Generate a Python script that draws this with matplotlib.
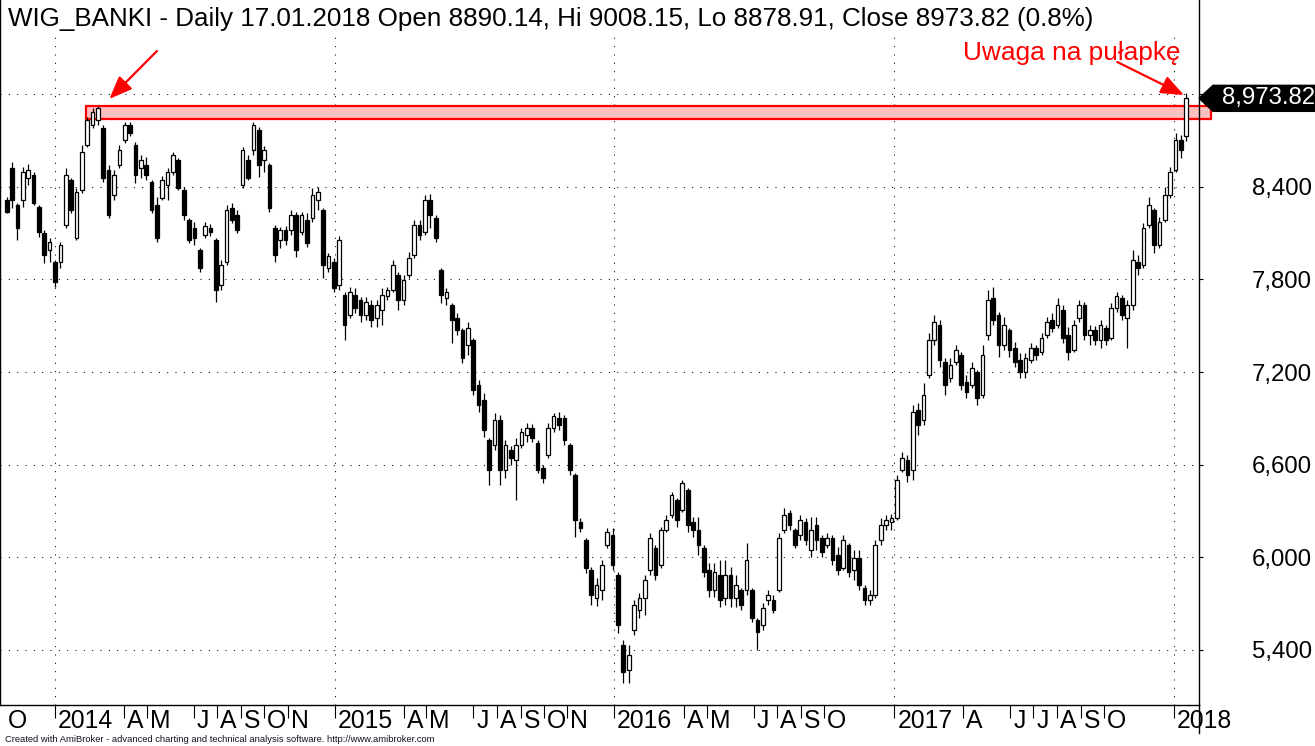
import matplotlib
matplotlib.use("Agg")
import matplotlib.pyplot as plt
import matplotlib.dates as mdates
import numpy as np
import pandas as pd
from matplotlib.patches import Rectangle, Polygon
from matplotlib.transforms import blended_transform_factory, ScaledTranslation

plt.rcParams['font.family'] = ['Liberation Sans', 'DejaVu Sans']

# ---------------- data (weekly candles) ----------------
last_date = "2018-01-17"

opens = [
    8315, 8523, 8283, 8315, 8458, 8477, 8270, 8101, 7991, 7913,
    7913, 8153, 8445, 8069, 8380, 8672, 8801, 8834, 8782, 8510,
    8348, 8542, 8704, 8801, 8672, 8523, 8542, 8432, 8283, 8328,
    8412, 8497, 8574, 8380, 8186, 8134, 7991, 8089, 8134, 8056,
    7765, 7913, 8263, 8218, 8412, 8574, 8639, 8769, 8574, 8542,
    8134, 8056, 8121, 8121, 8218, 8108, 8186, 8199, 8315, 8250,
    7875, 7913, 7765, 7700, 7570, 7700, 7667, 7570, 7635, 7551,
    7603, 7693, 7732, 7829, 7667, 7829, 7959, 8153, 8108, 8315,
    8199, 7862, 7680, 7635, 7551, 7473, 7376, 7408, 7117, 7019,
    6760, 6728, 6890, 6566, 6696, 6631, 6728, 6793, 6838, 6741,
    6579, 6663, 6838, 6903, 6903, 6728, 6534, 6229, 6112, 5918,
    5737, 5788, 6080, 6145, 5886, 5432, 5270, 5529, 5659, 5737,
    5918, 6060, 5950, 6177, 6274, 6372, 6307, 6436, 6229, 6177,
    6060, 5918, 5788, 5886, 5737, 5886, 5737, 5788, 5788, 5788,
    5594, 5562, 5724, 5724, 5788, 6177, 6287, 6177, 6145, 6229,
    6048, 6210, 6125, 6080, 6125, 6015, 5931, 6080, 5918, 5996,
    5801, 5724, 5756, 6112, 6210, 6229, 6255, 6566, 6631, 6566,
    6955, 6890, 7181, 7408, 7505, 7266, 7162, 7266, 7311, 7136,
    7117, 7201, 7052, 7441, 7680, 7570, 7376, 7473, 7356, 7279,
    7201, 7279, 7356, 7330, 7441, 7538, 7505, 7603, 7441, 7343,
    7551, 7635, 7441, 7473, 7408, 7486, 7421, 7616, 7680, 7551,
    7635, 7913, 7894, 8153, 8250, 8024, 8186, 8348, 8510, 8704,
    8730,
]
highs = [
    8335, 8561, 8296, 8529, 8548, 8497, 8283, 8121, 8069, 7926,
    8043, 8523, 8458, 8393, 8672, 8853, 8911, 8924, 8801, 8542,
    8510, 8672, 8821, 8821, 8691, 8607, 8594, 8445, 8335, 8471,
    8523, 8626, 8587, 8399, 8199, 8173, 8004, 8173, 8160, 8069,
    7926, 8283, 8296, 8250, 8659, 8607, 8821, 8788, 8665, 8555,
    8153, 8140, 8147, 8250, 8237, 8237, 8231, 8393, 8399, 8263,
    7972, 7939, 8082, 7719, 7752, 7745, 7687, 7687, 7667, 7667,
    7745, 7752, 7926, 7849, 7829, 7978, 8186, 8186, 8348, 8354,
    8218, 7875, 7745, 7648, 7583, 7486, 7525, 7421, 7149, 7065,
    6773, 6935, 6922, 6760, 6722, 6773, 6838, 6870, 6864, 6760,
    6598, 6870, 6935, 6942, 6922, 6741, 6547, 6255, 6125, 5937,
    5866, 5983, 6190, 6190, 5905, 5464, 5432, 5724, 5769, 5886,
    6158, 6080, 6197, 6274, 6423, 6384, 6501, 6449, 6261, 6261,
    6080, 5963, 5963, 5983, 5983, 5937, 5886, 5801, 6093, 5801,
    5607, 5704, 5788, 5756, 6158, 6320, 6307, 6190, 6274, 6255,
    6261, 6261, 6145, 6158, 6145, 6067, 6145, 6093, 6048, 6048,
    5821, 5788, 6112, 6255, 6274, 6281, 6534, 6683, 6663, 6987,
    6999, 7130, 7454, 7570, 7538, 7291, 7291, 7376, 7330, 7181,
    7266, 7214, 7376, 7732, 7752, 7590, 7557, 7486, 7395, 7324,
    7324, 7389, 7376, 7454, 7557, 7583, 7680, 7635, 7492, 7538,
    7667, 7654, 7505, 7499, 7538, 7505, 7648, 7719, 7700, 7667,
    7991, 7959, 8166, 8335, 8263, 8205, 8399, 8529, 8749, 8736,
    9008.15,
]
lows = [
    8228, 8263, 8056, 8270, 8412, 8283, 8076, 7907, 7913, 7752,
    7875, 8134, 8231, 8056, 8361, 8659, 8782, 8801, 8432, 8199,
    8315, 8523, 8685, 8730, 8425, 8458, 8445, 8231, 8043, 8315,
    8315, 8477, 8380, 8186, 8037, 8024, 7849, 8069, 8082, 7654,
    7732, 7894, 8166, 8101, 8393, 8445, 8607, 8464, 8497, 8237,
    7913, 8004, 8024, 8089, 7946, 8089, 8011, 8173, 8250, 7810,
    7849, 7719, 7732, 7408, 7551, 7583, 7525, 7538, 7492, 7492,
    7505, 7667, 7719, 7603, 7635, 7810, 7939, 8056, 8089, 8134,
    8043, 7648, 7635, 7389, 7441, 7259, 7311, 7052, 6942, 6780,
    6469, 6696, 6469, 6514, 6598, 6372, 6708, 6747, 6747, 6547,
    6482, 6644, 6812, 6825, 6728, 6534, 6132, 6164, 5899, 5691,
    5685, 5724, 6060, 5918, 5510, 5186, 5186, 5497, 5607, 5626,
    5886, 5853, 5931, 6164, 6255, 6197, 6294, 6164, 6132, 6015,
    5873, 5743, 5743, 5678, 5691, 5678, 5678, 5659, 5756, 5581,
    5400, 5529, 5691, 5639, 5775, 6158, 6177, 6060, 6112, 6080,
    6002, 6048, 6002, 6060, 5950, 5886, 5918, 5873, 5853, 5788,
    5691, 5691, 5737, 6080, 6177, 6177, 6242, 6553, 6488, 6501,
    6793, 6857, 7162, 7376, 7233, 7052, 7136, 7246, 7084, 7032,
    7097, 6987, 7032, 7408, 7505, 7298, 7343, 7298, 7233, 7162,
    7162, 7259, 7279, 7311, 7421, 7460, 7486, 7389, 7279, 7330,
    7525, 7408, 7376, 7376, 7356, 7376, 7408, 7590, 7538, 7356,
    7603, 7829, 7875, 8134, 7972, 8004, 8173, 8328, 8497, 8587,
    8700,
]
closes = [
    8237, 8315, 8134, 8497, 8510, 8296, 8108, 7959, 8043, 7784,
    8024, 8477, 8250, 8367, 8626, 8834, 8885, 8911, 8458, 8218,
    8477, 8639, 8801, 8749, 8477, 8574, 8477, 8250, 8069, 8445,
    8497, 8607, 8393, 8218, 8056, 8069, 7875, 8147, 8108, 7732,
    7894, 8250, 8186, 8121, 8639, 8458, 8801, 8542, 8639, 8263,
    7959, 8121, 8056, 8218, 7991, 8218, 8037, 8348, 8367, 7894,
    7952, 7745, 8056, 7505, 7719, 7616, 7570, 7654, 7538, 7635,
    7700, 7732, 7894, 7667, 7797, 7939, 8153, 8089, 8315, 8218,
    8069, 7700, 7719, 7538, 7473, 7291, 7486, 7084, 6987, 6825,
    6566, 6890, 6566, 6728, 6644, 6728, 6812, 6838, 6773, 6566,
    6514, 6838, 6916, 6857, 6760, 6566, 6242, 6190, 5931, 5756,
    5821, 5950, 6164, 5950, 5562, 5257, 5367, 5691, 5737, 5853,
    6125, 5886, 6177, 6242, 6404, 6242, 6482, 6210, 6177, 6080,
    5905, 5788, 5905, 5724, 5886, 5737, 5821, 5691, 5983, 5607,
    5516, 5672, 5756, 5659, 6125, 6274, 6210, 6080, 6242, 6112,
    6177, 6112, 6035, 6125, 5983, 5918, 6112, 5905, 5996, 5821,
    5724, 5756, 6080, 6210, 6242, 6255, 6501, 6644, 6534, 6942,
    6857, 7052, 7408, 7525, 7279, 7117, 7246, 7343, 7117, 7071,
    7227, 7032, 7311, 7667, 7538, 7376, 7505, 7343, 7266, 7201,
    7291, 7356, 7311, 7421, 7525, 7486, 7635, 7421, 7330, 7505,
    7635, 7441, 7473, 7408, 7505, 7408, 7616, 7693, 7570, 7635,
    7926, 7875, 8134, 8283, 8024, 8173, 8348, 8497, 8704, 8639,
    8973.82,
]

y_ticks = [5400, 6000, 6600, 7200, 7800, 8400, 9000]
y_labels = ["5,400", "6,000", "6,600", "7,200", "7,800", "8,400", ""]
month_ticks = [
    ("2014-01-01", "2014"), ("2014-04-01", "A"), ("2014-05-01", "M"),
    ("2014-07-01", "J"), ("2014-08-01", "A"), ("2014-09-01", "S"),
    ("2014-10-01", "O"), ("2014-11-01", "N"),
    ("2015-01-01", "2015"), ("2015-04-01", "A"), ("2015-05-01", "M"),
    ("2015-07-01", "J"), ("2015-08-01", "A"), ("2015-09-01", "S"),
    ("2015-10-01", "O"), ("2015-11-01", "N"),
    ("2016-01-01", "2016"), ("2016-04-01", "A"), ("2016-05-01", "M"),
    ("2016-07-01", "J"), ("2016-08-01", "A"), ("2016-09-01", "S"),
    ("2016-10-01", "O"),
    ("2017-01-01", "2017"), ("2017-04-01", "A"), ("2017-06-01", "J"),
    ("2017-07-01", "J"), ("2017-08-01", "A"), ("2017-09-01", "S"),
    ("2017-10-01", "O"),
    ("2018-01-01", "2018"),
]
year_lines = ["2014-01-01", "2015-01-01", "2016-01-01", "2017-01-01", "2018-01-01"]
zone_low, zone_high = 8838, 8927
zone_start, zone_end = "2014-02-10", "2018-02-18"

title = ("WIG_BANKI - Daily 17.01.2018 Open 8890.14, Hi 9008.15, "
         "Lo 8878.91, Close 8973.82 (0.8%)")
note = "Uwaga na pułapkę"
footer = ("Created with AmiBroker - advanced charting and technical analysis "
          "software. http://www.amibroker.com")

# ---------------- figure ----------------
W, H = 1315, 746
fig = plt.figure(figsize=(W / 100, H / 100), dpi=100)
ax = fig.add_axes([0, 41 / H, 1199 / W, 705 / H])

dates = pd.date_range(end=last_date, periods=len(closes), freq="7D")
x = mdates.date2num(dates)
o = np.array(opens, float)
h = np.array(highs, float)
l = np.array(lows, float)
c = np.array(closes, float)

base = mdates.date2num(pd.Timestamp("2014-01-01"))
ax.set_xlim(base - 71.81, base + 1493.6)
ax.set_ylim(5043, 9611)

# wicks and bodies
ax.vlines(x, l, h, color="black", lw=0.9, zorder=3)
up = c >= o
bot = np.minimum(o, c)
hgt = np.maximum(np.abs(c - o), 8)
bw = 4.8
ax.bar(x[up], hgt[up], bottom=bot[up], width=bw, facecolor="white",
       edgecolor="black", linewidth=0.9, zorder=4)
ax.bar(x[~up], hgt[~up], bottom=bot[~up], width=bw, facecolor="black",
       edgecolor="black", linewidth=0.9, zorder=4)

# zone rectangle
zs = mdates.date2num(pd.Timestamp(zone_start))
ze = mdates.date2num(pd.Timestamp(zone_end))
ax.add_patch(Rectangle((zs, zone_low), ze - zs, zone_high - zone_low,
                       facecolor="#FFC0C0", edgecolor="#FF0000", lw=1.6,
                       clip_on=False, zorder=2))

# grid
for yv in y_ticks:
    ax.axhline(yv, color="black", lw=0.75, ls=(0, (1, 7)), zorder=1)
for yl in year_lines:
    ax.axvline(mdates.date2num(pd.Timestamp(yl)), ymin=0, ymax=1 - 37 / 705,
               color="black", lw=0.75, ls=(0, (1, 7)), zorder=1)

# spines
ax.spines["top"].set_visible(False)
for s in ["left", "bottom", "right"]:
    ax.spines[s].set_linewidth(1.0)
ax.plot([1, 1], [0, -28 / 705], transform=ax.transAxes, color="black",
        lw=1.0, clip_on=False)

# y axis on the right
ax.yaxis.tick_right()
ax.set_yticks(y_ticks)
ax.set_yticklabels(y_labels)
ax.tick_params(axis="y", length=3, width=0.8, pad=35, labelsize=17.3)

# x axis ticks and labels
tick_x = [mdates.date2num(pd.Timestamp(d)) for d, _ in month_ticks]
ax.set_xticks(tick_x)
ax.set_xticklabels([""] * len(tick_x))
ax.tick_params(axis="x", length=9.4, width=0.8, direction="out")
btr = blended_transform_factory(ax.transData, ax.transAxes)
off = ScaledTranslation(3 / 100, -23 / 100, fig.dpi_scale_trans)
for tx, (_, lab) in zip(tick_x, month_ticks):
    ax.text(tx, 0, lab, transform=btr + off, ha="left", va="baseline",
            fontsize=17.8, clip_on=False)
ax.text(8 / 1199, 0, "O", transform=ax.transAxes +
        ScaledTranslation(0, -23 / 100, fig.dpi_scale_trans),
        ha="left", va="baseline", fontsize=17.8)

# last-price marker
fig.canvas.draw()
px, py = ax.transData.transform((ax.get_xlim()[1], closes[-1]))
inv = fig.transFigure.inverted()
pts_pix = [(px, py), (px + 14, py + 13), (W + 5, py + 13), (W + 5, py - 13),
           (px + 14, py - 13)]
pts_fig = inv.transform(pts_pix)
fig.patches.append(Polygon(pts_fig, closed=True, facecolor="black",
                           edgecolor="black", transform=fig.transFigure))
tx0, _ = inv.transform((px + 23, py))
_, ty0 = inv.transform((px, py))
fig.text(tx0, ty0, f"{closes[-1]:,.2f}", color="white", fontsize=17.3,
         ha="left", va="center")

# arrows
def dn(s):
    return mdates.date2num(pd.Timestamp(s))

arrow_style = dict(arrowstyle="-|>,head_length=0.7,head_width=0.28",
                   color="#FF0000", lw=1.6, shrinkA=0, shrinkB=0,
                   mutation_scale=20)
ax.annotate("", xy=(dn("2014-03-13"), 8970), xytext=(dn("2014-05-14"), 9280),
            arrowprops=arrow_style, annotation_clip=False)
ax.annotate("", xy=(dn("2018-01-14"), 8995), xytext=(dn("2017-10-19"), 9209),
            arrowprops=arrow_style, annotation_clip=False)

# texts
fig.text(8 / W, 1 - 26 / H, title, fontsize=18.7, ha="left", va="baseline")
fig.text(963 / W, 1 - 60 / H, note, fontsize=18.9, color="#FF0000",
         ha="left", va="baseline")
fig.text(5 / W, 1 - 740 / H, footer, fontsize=6.75, ha="left", va="center",
         color="#101020")

fig.savefig("out.png", dpi=100)
